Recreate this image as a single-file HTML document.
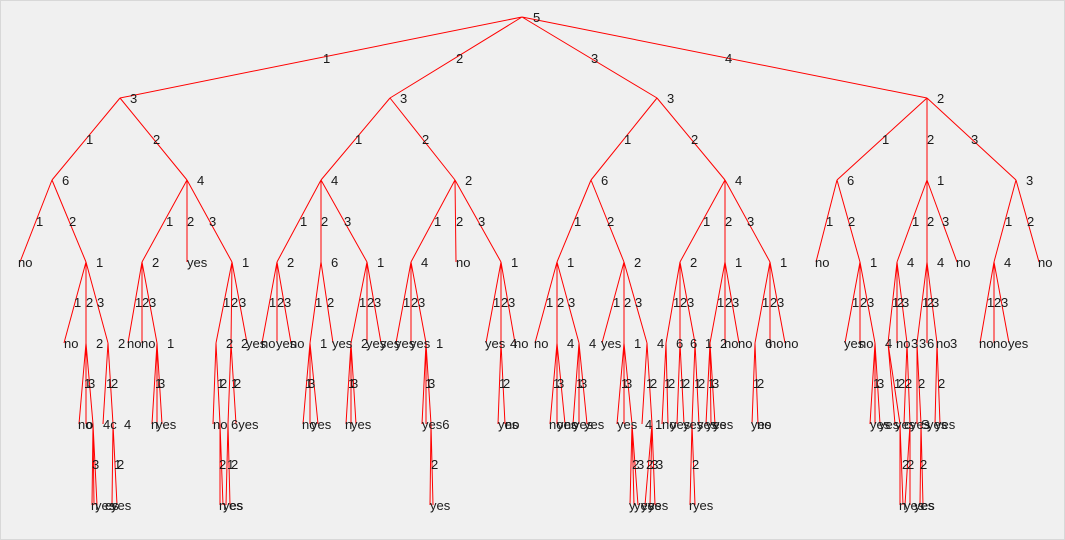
<!DOCTYPE html>
<html><head><meta charset="utf-8"><style>
html,body{margin:0;padding:0;background:#f0f0f0;}
svg{display:block;}
text{font-family:"Liberation Sans",Arial,sans-serif;font-size:13px;fill:#1a1a1a;}
</style></head><body>
<svg width="1065" height="540" viewBox="0 0 1065 540" xmlns="http://www.w3.org/2000/svg">
<rect x="0" y="0" width="1065" height="540" fill="#f0f0f0"/>
<rect x="0.5" y="0.5" width="1064" height="539" fill="none" stroke="#d8d8d8"/>
<g stroke="#ff0000" stroke-width="1" fill="none">
<path d="M522 17L120 98M522 17L390 98M522 17L657 98M522 17L927 98"/>
<path d="M120 98L52 180M120 98L187 180M390 98L321 180M390 98L455 180M657 98L591 180M657 98L725 180M927 98L837 180M927 98L927 180M927 98L1016 180"/>
<path d="M52 180L20 262M52 180L86 262M187 180L142 262M187 180L187 262M187 180L232 262M321 180L277 262M321 180L321 262M321 180L367 262M455 180L411 262M455 180L456 262M455 180L501 262M591 180L557 262M591 180L624 262M725 180L680 262M725 180L725 262M725 180L770 262M837 180L816 262M837 180L860 262M927 180L897 262M927 180L927 262M927 180L957 262M1016 180L994 262M1016 180L1039 262"/>
<path d="M86 262L64 343M86 262L86 343M86 262L108 343M142 262L128 343M142 262L142 343M142 262L157 343M232 262L216 343M232 262L231 343M232 262L247 343M277 262L262 343M277 262L277 343M277 262L291 343M321 262L310 343M321 262L333 343M367 262L351 343M367 262L367 343M367 262L381 343M411 262L396 343M411 262L411 343M411 262L426 343M501 262L486 343M501 262L501 343M501 262L515 343M557 262L535 343M557 262L557 343M557 262L579 343M624 262L602 343M624 262L624 343M624 262L647 343M680 262L666 343M680 262L680 343M680 262L695 343M725 262L710 343M725 262L725 343M725 262L739 343M770 262L755 343M770 262L770 343M770 262L785 343M860 262L845 343M860 262L860 343M860 262L875 343M897 262L888 343M897 262L897 343M897 262L907 343M927 262L917 343M927 262L927 343M927 262L937 343M994 262L980 343M994 262L994 343M994 262L1009 343"/>
<path d="M86 343L79 424M86 343L86 424M86 343L93 424M108 343L103 424M108 343L113 424M157 343L152 424M157 343L157 424M157 343L162 424M216 343L213 424M216 343L220 424M231 343L228 424M231 343L236 424M310 343L303 424M310 343L310 424M310 343L318 424M351 343L346 424M351 343L351 424M351 343L356 424M426 343L422 424M426 343L426 424M426 343L431 424M501 343L498 424M501 343L505 424M557 343L550 424M557 343L557 424M557 343L565 424M579 343L573 424M579 343L579 424M579 343L587 424M624 343L617 424M624 343L624 424M624 343L632 424M647 343L642 424M647 343L652 424M666 343L662 424M666 343L668 424M680 343L677 424M680 343L684 424M695 343L692 424M695 343L699 424M710 343L706 424M710 343L711 424M710 343L715 424M755 343L752 424M755 343L758 424M875 343L870 424M875 343L875 424M875 343L880 424M888 343L895 424M888 343L900 424M907 343L904 424M907 343L910 424M917 343L917 424M917 343L921 424M937 343L935 424M937 343L940 424"/>
<path d="M93 424L92 505M93 424L94 505M93 424L97 505M113 424L112 505M113 424L117 505M220 424L220 505M220 424L223 505M228 424L226 505M228 424L230 505M431 424L430 505M431 424L433 505M632 424L630 505M632 424L634 505M632 424L638 505M652 424L645 505M652 424L650 505M652 424L655 505M692 424L690 505M692 424L695 505M900 424L900 505M900 424L903 505M910 424L905 505M910 424L910 505M921 424L920 505M921 424L923 505"/>
</g>
<g>
<text x="533" y="22">5</text>
<text x="323" y="63">1</text><text x="456" y="63">2</text><text x="591" y="63">3</text><text x="725" y="63">4</text>
<text x="130" y="103">3</text><text x="400" y="103">3</text><text x="667" y="103">3</text><text x="937" y="103">2</text>
<text x="86" y="144">1</text><text x="153" y="144">2</text><text x="355" y="144">1</text><text x="422" y="144">2</text><text x="624" y="144">1</text><text x="691" y="144">2</text><text x="882" y="144">1</text><text x="927" y="144">2</text><text x="971" y="144">3</text>
<text x="62" y="185">6</text><text x="197" y="185">4</text><text x="331" y="185">4</text><text x="465" y="185">2</text><text x="601" y="185">6</text><text x="735" y="185">4</text><text x="847" y="185">6</text><text x="937" y="185">1</text><text x="1026" y="185">3</text>
<text x="36" y="226">1</text><text x="69" y="226">2</text><text x="166" y="226">1</text><text x="187" y="226">2</text><text x="209" y="226">3</text><text x="300" y="226">1</text><text x="321" y="226">2</text><text x="344" y="226">3</text><text x="434" y="226">1</text><text x="456" y="226">2</text><text x="478" y="226">3</text><text x="574" y="226">1</text><text x="607" y="226">2</text><text x="703" y="226">1</text><text x="725" y="226">2</text><text x="747" y="226">3</text><text x="826" y="226">1</text><text x="848" y="226">2</text><text x="912" y="226">1</text><text x="927" y="226">2</text><text x="942" y="226">3</text><text x="1005" y="226">1</text><text x="1027" y="226">2</text>
<text x="18" y="267">no</text><text x="96" y="267">1</text><text x="152" y="267">2</text><text x="187" y="267">yes</text><text x="242" y="267">1</text><text x="287" y="267">2</text><text x="331" y="267">6</text><text x="377" y="267">1</text><text x="421" y="267">4</text><text x="456" y="267">no</text><text x="511" y="267">1</text><text x="567" y="267">1</text><text x="634" y="267">2</text><text x="690" y="267">2</text><text x="735" y="267">1</text><text x="780" y="267">1</text><text x="815" y="267">no</text><text x="870" y="267">1</text><text x="907" y="267">4</text><text x="937" y="267">4</text><text x="956" y="267">no</text><text x="1004" y="267">4</text><text x="1038" y="267">no</text>
<text x="74" y="307">1</text><text x="86" y="307">2</text><text x="97" y="307">3</text><text x="135" y="307">1</text><text x="142" y="307">2</text><text x="149" y="307">3</text><text x="223" y="307">1</text><text x="231" y="307">2</text><text x="239" y="307">3</text><text x="269" y="307">1</text><text x="277" y="307">2</text><text x="284" y="307">3</text><text x="315" y="307">1</text><text x="327" y="307">2</text><text x="359" y="307">1</text><text x="367" y="307">2</text><text x="374" y="307">3</text><text x="403" y="307">1</text><text x="411" y="307">2</text><text x="418" y="307">3</text><text x="493" y="307">1</text><text x="501" y="307">2</text><text x="508" y="307">3</text><text x="546" y="307">1</text><text x="557" y="307">2</text><text x="568" y="307">3</text><text x="613" y="307">1</text><text x="624" y="307">2</text><text x="635" y="307">3</text><text x="673" y="307">1</text><text x="680" y="307">2</text><text x="687" y="307">3</text><text x="717" y="307">1</text><text x="725" y="307">2</text><text x="732" y="307">3</text><text x="762" y="307">1</text><text x="770" y="307">2</text><text x="777" y="307">3</text><text x="852" y="307">1</text><text x="860" y="307">2</text><text x="867" y="307">3</text><text x="892" y="307">1</text><text x="897" y="307">2</text><text x="902" y="307">3</text><text x="922" y="307">1</text><text x="927" y="307">2</text><text x="932" y="307">3</text><text x="987" y="307">1</text><text x="994" y="307">2</text><text x="1001" y="307">3</text>
<text x="64" y="348">no</text><text x="96" y="348">2</text><text x="118" y="348">2</text><text x="127" y="348">no</text><text x="141" y="348">no</text><text x="167" y="348">1</text><text x="226" y="348">2</text><text x="241" y="348">2</text><text x="246" y="348">yes</text><text x="261" y="348">no</text><text x="276" y="348">yes</text><text x="290" y="348">no</text><text x="320" y="348">1</text><text x="332" y="348">yes</text><text x="361" y="348">2</text><text x="366" y="348">yes</text><text x="380" y="348">yes</text><text x="395" y="348">yes</text><text x="410" y="348">yes</text><text x="436" y="348">1</text><text x="485" y="348">yes</text><text x="510" y="348">4</text><text x="514" y="348">no</text>
<text x="534" y="348">no</text><text x="567" y="348">4</text><text x="589" y="348">4</text><text x="601" y="348">yes</text><text x="634" y="348">1</text><text x="657" y="348">4</text><text x="676" y="348">6</text><text x="690" y="348">6</text><text x="705" y="348">1</text><text x="720" y="348">2</text><text x="724" y="348">no</text><text x="738" y="348">no</text><text x="765" y="348">6</text><text x="769" y="348">no</text><text x="784" y="348">no</text><text x="844" y="348">yes</text><text x="859" y="348">no</text><text x="885" y="348">4</text><text x="896" y="348">no</text><text x="911" y="348">3</text><text x="919" y="348">3</text><text x="927" y="348">6</text><text x="936" y="348">no</text><text x="950" y="348">3</text><text x="979" y="348">no</text><text x="993" y="348">no</text><text x="1008" y="348">yes</text>
<text x="84" y="388">1</text><text x="88" y="388">3</text><text x="106" y="388">1</text><text x="111" y="388">2</text><text x="155" y="388">1</text><text x="158" y="388">3</text><text x="217" y="388">1</text><text x="220" y="388">2</text><text x="231" y="388">1</text><text x="234" y="388">2</text><text x="305" y="388">1</text><text x="308" y="388">3</text><text x="348" y="388">1</text><text x="351" y="388">3</text><text x="425" y="388">1</text><text x="428" y="388">3</text><text x="499" y="388">1</text><text x="503" y="388">2</text><text x="553" y="388">1</text><text x="557" y="388">3</text><text x="576" y="388">1</text><text x="580" y="388">3</text><text x="621" y="388">1</text><text x="625" y="388">3</text><text x="646" y="388">1</text><text x="650" y="388">2</text><text x="664" y="388">1</text><text x="668" y="388">2</text><text x="679" y="388">1</text><text x="683" y="388">2</text><text x="694" y="388">1</text><text x="698" y="388">2</text><text x="708" y="388">1</text><text x="712" y="388">3</text><text x="753" y="388">1</text><text x="757" y="388">2</text><text x="873" y="388">1</text><text x="877" y="388">3</text><text x="894" y="388">1</text><text x="898" y="388">2</text><text x="905" y="388">2</text><text x="918" y="388">2</text><text x="938" y="388">2</text>
<text x="78" y="429">no</text><text x="86" y="429">o</text><text x="103" y="429">4c</text><text x="124" y="429">4</text><text x="151" y="429">n</text><text x="156" y="429">yes</text><text x="213" y="429">no</text><text x="231" y="429">6yes</text><text x="302" y="429">no</text><text x="311" y="429">yes</text><text x="345" y="429">n</text><text x="351" y="429">yes</text><text x="422" y="429">yes6</text><text x="498" y="429">yes</text><text x="505" y="429">no</text><text x="549" y="429">no</text><text x="557" y="429">yes</text><text x="564" y="429">no</text><text x="573" y="429">yes</text><text x="584" y="429">yes</text><text x="617" y="429">yes</text><text x="645" y="429">4</text><text x="655" y="429">1</text><text x="662" y="429">no</text><text x="670" y="429">yes</text><text x="683" y="429">yes</text><text x="697" y="429">yes</text><text x="706" y="429">yes</text><text x="713" y="429">yes</text><text x="751" y="429">yes</text><text x="757" y="429">no</text><text x="870" y="429">yes</text><text x="879" y="429">yes</text><text x="895" y="429">yes</text><text x="904" y="429">c</text><text x="910" y="429">yes</text><text x="921" y="429">S</text><text x="927" y="429">yes</text><text x="935" y="429">yes</text>
<text x="92" y="469">3</text><text x="114" y="469">1</text><text x="117" y="469">2</text><text x="219" y="469">2</text><text x="227" y="469">1</text><text x="231" y="469">2</text><text x="431" y="469">2</text><text x="632" y="469">2</text><text x="637" y="469">3</text><text x="646" y="469">2</text><text x="651" y="469">3</text><text x="656" y="469">3</text><text x="692" y="469">2</text><text x="902" y="469">2</text><text x="907" y="469">2</text><text x="920" y="469">2</text>
<text x="91" y="510">n</text><text x="95" y="510">yes</text><text x="105" y="510">es</text><text x="111" y="510">yes</text><text x="219" y="510">n</text><text x="223" y="510">yes</text><text x="229" y="510">es</text><text x="430" y="510">yes</text><text x="629" y="510">y</text><text x="634" y="510">yes</text><text x="641" y="510">yes</text><text x="648" y="510">yes</text><text x="689" y="510">r</text><text x="693" y="510">yes</text><text x="899" y="510">n</text><text x="904" y="510">yes</text><text x="914" y="510">yes</text><text x="921" y="510">es</text>
</g>
</svg>
</body></html>
